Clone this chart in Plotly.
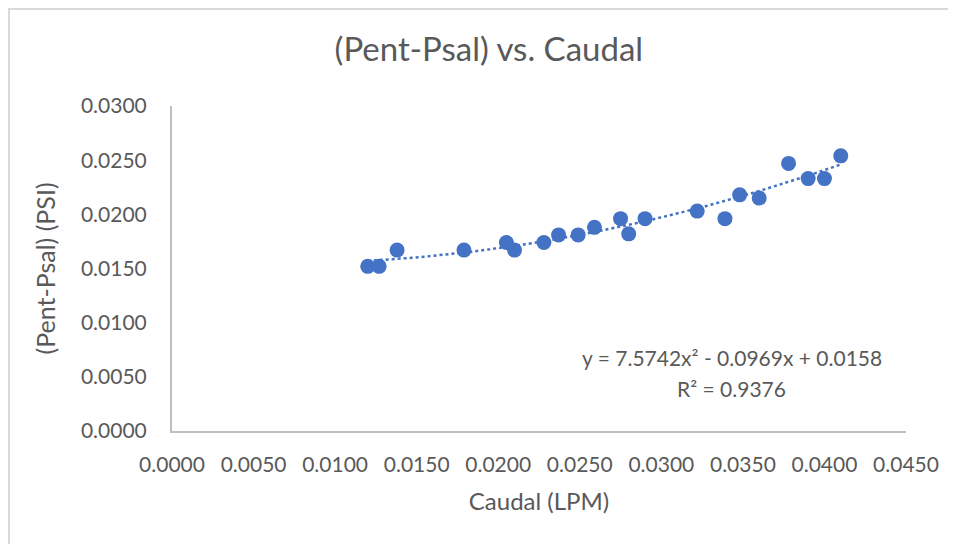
import numpy as np
import plotly.graph_objects as go

# Caudal (LPM) vs pressure drop (PSI)
CAUDAL = [
    0.0120, 0.0127, 0.0138, 0.0179, 0.0205, 0.0210, 0.0228, 0.0237,
    0.0249, 0.0259, 0.0275, 0.0280, 0.0290, 0.0322, 0.0339, 0.0348,
    0.0360, 0.0378, 0.0390, 0.0400, 0.0410,
]
PRESION = [
    0.0152, 0.0152, 0.0167, 0.0167, 0.0174, 0.0167, 0.0174, 0.0181,
    0.0181, 0.0188, 0.0196, 0.0182, 0.0196, 0.0203, 0.0196, 0.0218,
    0.0215, 0.0247, 0.0233, 0.0233, 0.0254,
]
X_TICKS = [i * 0.005 for i in range(10)]
Y_TICKS = [i * 0.005 for i in range(7)]

FONT_FAMILY = "Lato"
TEXT_COLOR = "#595959"
AXIS_COLOR = "#bfbfbf"
POINT_COLOR = "#4472c4"

# second order trendline, like Excel's polynomial fit
coef = np.polyfit(CAUDAL, PRESION, 2)
trend_x = np.linspace(min(CAUDAL), max(CAUDAL), 60)
trend_y = np.polyval(coef, trend_x)

fig = go.Figure()

fig.add_trace(
    go.Scatter(
        x=trend_x,
        y=trend_y,
        mode="lines",
        line=dict(color=POINT_COLOR, width=2.5, dash="dot"),
        hoverinfo="skip",
        showlegend=False,
    )
)

fig.add_trace(
    go.Scatter(
        x=CAUDAL,
        y=PRESION,
        mode="markers",
        marker=dict(size=15, color=POINT_COLOR),
        showlegend=False,
    )
)

# the page body has an 8px margin, so the layout is shifted up/left by 8px
fig.update_layout(
    width=956,
    height=544,
    paper_bgcolor="white",
    plot_bgcolor="white",
    margin=dict(l=164, r=58, t=98, b=121),
    font=dict(family=FONT_FAMILY, color=TEXT_COLOR, size=21),
    title=dict(
        text="(Pent-Psal) vs. Caudal",
        x=0.503,
        xanchor="center",
        y=0.923,
        yanchor="middle",
        font=dict(size=33, color=TEXT_COLOR),
    ),
    xaxis=dict(
        range=[0, 0.045],
        tickvals=X_TICKS,
        tickformat=".4f",
        showgrid=False,
        zeroline=False,
        showline=True,
        linecolor=AXIS_COLOR,
        linewidth=2,
        ticks="",
        ticklabelstandoff=14,
        title=dict(text="Caudal (LPM)", standoff=18, font=dict(size=24)),
    ),
    yaxis=dict(
        range=[0, 0.03],
        tickvals=Y_TICKS,
        tickformat=".4f",
        showgrid=False,
        zeroline=False,
        showline=True,
        linecolor=AXIS_COLOR,
        linewidth=2,
        ticks="",
        ticklabelstandoff=19,
        title=dict(text="(Pent-Psal) (PSI)", standoff=18, font=dict(size=25)),
    ),
    shapes=[
        dict(
            type="rect",
            xref="paper",
            yref="paper",
            x0=-0.2221,
            x1=1.2,
            y0=-0.6,
            y1=1.2985,
            line=dict(color="#d9d9d9", width=2),
            fillcolor="rgba(0,0,0,0)",
            layer="below",
        )
    ],
    annotations=[
        dict(
            text="y = 7.5742x² - 0.0969x + 0.0158",
            x=0.03433,
            y=0.00674,
            xref="x",
            yref="y",
            xanchor="center",
            yanchor="middle",
            showarrow=False,
            font=dict(size=21, color=TEXT_COLOR),
        ),
        dict(
            text="R² = 0.9376",
            x=0.03433,
            y=0.00388,
            xref="x",
            yref="y",
            xanchor="center",
            yanchor="middle",
            showarrow=False,
            font=dict(size=21, color=TEXT_COLOR),
        ),
    ],
)

fig.write_html("out.html")
